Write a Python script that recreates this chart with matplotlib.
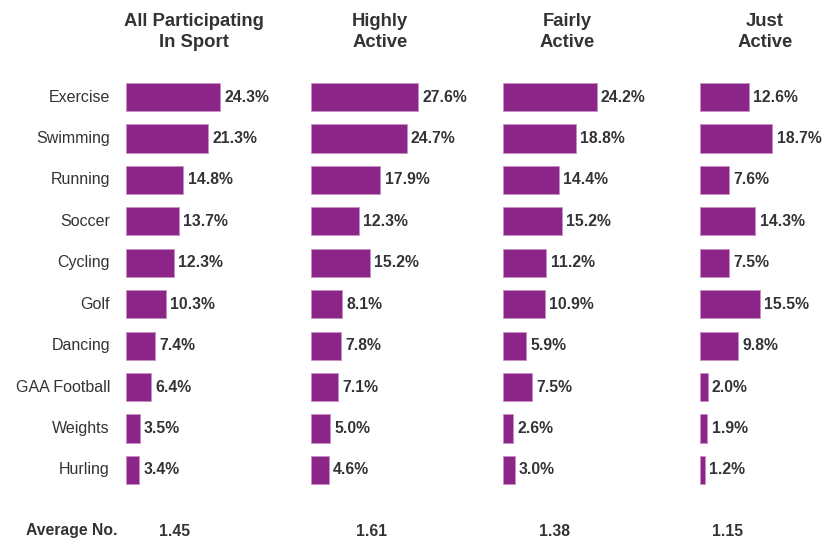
import matplotlib
matplotlib.use("Agg")
import matplotlib.pyplot as plt

plt.rcParams["font.family"] = ["Liberation Sans", "DejaVu Sans"]

sports = ["Exercise", "Swimming", "Running", "Soccer", "Cycling", "Golf",
          "Dancing", "GAA Football", "Weights", "Hurling"]
groups = ["All Participating\nIn Sport", "Highly\nActive", "Fairly\nActive", "Just\nActive"]
all_sport = [24.3, 21.3, 14.8, 13.7, 12.3, 10.3, 7.4, 6.4, 3.5, 3.4]
highly = [27.6, 24.7, 17.9, 12.3, 15.2, 8.1, 7.8, 7.1, 5.0, 4.6]
fairly = [24.2, 18.8, 14.4, 15.2, 11.2, 10.9, 5.9, 7.5, 2.6, 3.0]
just = [12.6, 18.7, 7.6, 14.3, 7.5, 15.5, 9.8, 2.0, 1.9, 1.2]
averages = ["1.45", "1.61", "1.38", "1.15"]
series = [all_sport, highly, fairly, just]

W, H = 824, 543
bar_color = "#8B2587"
txt = "#333333"

fig = plt.figure(figsize=(W / 100, H / 100), dpi=100)

# pixel layout
lefts = [126, 311, 503, 700]
header_x = [194, 380, 567, 765]
avg_x = [175, 372, 555, 728]
px_per_pct = 3.87
ax_w = 120
top_px, bot_px = 76.3, 490.7

for i, vals in enumerate(series):
    ax = fig.add_axes([lefts[i] / W, (H - bot_px) / H, ax_w / W, (bot_px - top_px) / H])
    ax.barh(range(len(sports)), vals, height=0.68, color=bar_color,
            edgecolor="#C98FC6", linewidth=0.6)
    ax.set_xlim(0, ax_w / px_per_pct)
    ax.set_ylim(len(sports) - 0.5, -0.5)
    for j, v in enumerate(vals):
        ax.text(v + 1.1, j, f"{v:.1f}%", va="center", ha="left",
                fontsize=11.3, fontweight="bold", color=txt)
    ax.axis("off")
    if i == 0:
        for j, s in enumerate(sports):
            ax.text(-16 / px_per_pct, j, s, va="center", ha="right",
                    fontsize=11.5, color=txt, clip_on=False)
    fig.text(header_x[i] / W, 1 - 32 / H, groups[i], ha="center", va="center",
             fontsize=13.3, fontweight="bold", color=txt, linespacing=1.3)
    fig.text(avg_x[i] / W, 1 - 531 / H, averages[i], ha="center", va="center",
             fontsize=11.3, fontweight="bold", color=txt)

fig.text(117 / W, 1 - 531 / H, "Average No.", ha="right", va="center",
         fontsize=11.3, fontweight="bold", color=txt)

fig.savefig("out.png", dpi=100)
